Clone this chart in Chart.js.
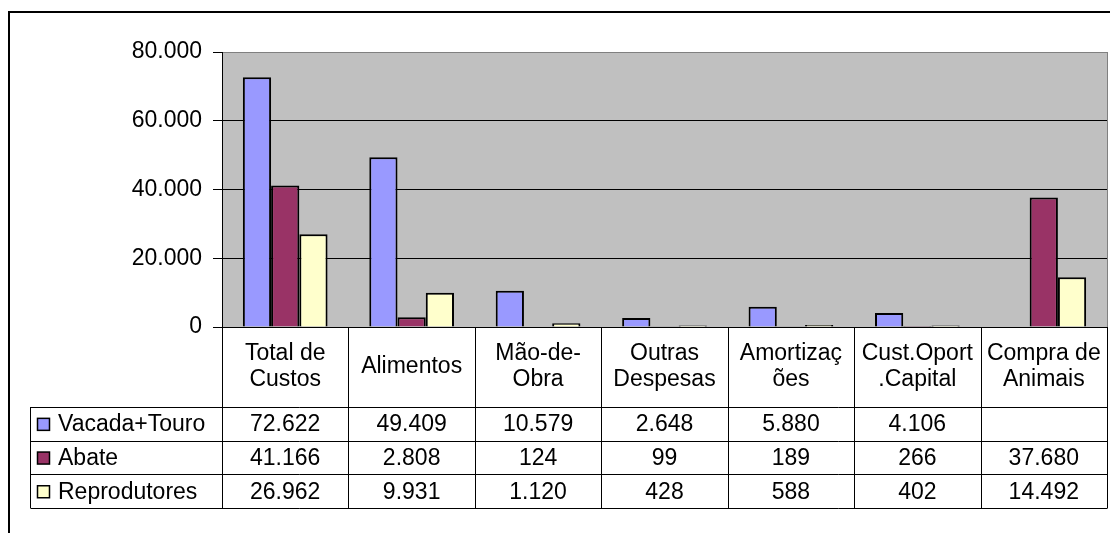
<!DOCTYPE html>
<html>
<head>
<meta charset="utf-8">
<script src="https://cdn.jsdelivr.net/npm/chart.js@4.4.1/dist/chart.umd.min.js"></script>
<style>
  html, body { margin: 0; padding: 0; background: #fff; }
  #wrap { width: 1110px; height: 533px; position: relative; }
</style>
</head>
<body>
<div id="wrap"><canvas id="chartOne" width="1110" height="533"></canvas></div>
<script>
// categorias (cabeçalho da tabela) e séries
let categorias = [['Total de', 'Custos'], ['Alimentos'], ['Mão-de-', 'Obra'], ['Outras', 'Despesas'], ['Amortizaç', 'ões'], ['Cust.Oport', '.Capital'], ['Compra de', 'Animais']];
let nomesSeries = ['Vacada+Touro', 'Abate', 'Reprodutores'];
let vacada = [72622, 49409, 10579, 2648, 5880, 4106, null];
let abate = [41166, 2808, 124, 99, 189, 266, 37680];
let reprodutores = [26962, 9931, 1120, 428, 588, 402, 14492];
let yMax = 80000;
let yStep = 20000;

let cores = ['#9999ff', '#993366', '#ffffcc'];
const FONTE = '23px "Liberation Sans", Arial, sans-serif';

// 72622 -> "72.622"
function formata(v) {
    if (v === null || v === undefined) return '';
    return String(v).replace(/\B(?=(\d{3})+(?!\d))/g, '.');
}

// fundo cinza, moldura e tabela de dados
const tabelaPlugin = {
    id: 'tabela',
    beforeDraw(chart) {
        const a = chart.chartArea;
        const ctx = chart.ctx;
        ctx.save();
        ctx.fillStyle = '#c0c0c0';
        ctx.fillRect(a.left, a.top, a.right - a.left, a.bottom - a.top);
        ctx.restore();
    },
    afterDraw(chart) {
        const a = chart.chartArea;
        const ctx = chart.ctx;
        const n = categorias.length;
        const colW = (a.right - a.left) / n;
        const headBottom = a.bottom + 80;
        const rowH = 33.7;
        const tableBottom = headBottom + rowH * 3;
        const legLeft = 30.5;

        ctx.save();
        // moldura externa
        ctx.strokeStyle = '#000';
        ctx.lineWidth = 2;
        ctx.beginPath();
        ctx.moveTo(9, 533);
        ctx.lineTo(9, 12);
        ctx.lineTo(1110, 12);
        ctx.stroke();

        // borda direita da área de plotagem
        ctx.lineWidth = 1;
        ctx.strokeStyle = '#808080';
        ctx.beginPath();
        ctx.moveTo(a.right + 0.5, a.top);
        ctx.lineTo(a.right + 0.5, a.bottom);
        ctx.stroke();

        // linhas da tabela
        ctx.strokeStyle = '#000';
        ctx.beginPath();
        for (let k = 0; k <= n; k++) {
            const x = Math.round(a.left + k * colW) + 0.5;
            ctx.moveTo(x, a.bottom);
            ctx.lineTo(x, tableBottom);
        }
        for (let r = 0; r <= 3; r++) {
            const y = Math.round(headBottom + r * rowH) + 0.5;
            ctx.moveTo(legLeft, y);
            ctx.lineTo(a.right + 0.5, y);
        }
        ctx.moveTo(legLeft, headBottom);
        ctx.lineTo(legLeft, tableBottom);
        ctx.stroke();

        ctx.font = FONTE;
        ctx.fillStyle = '#000';
        ctx.textAlign = 'center';
        ctx.textBaseline = 'middle';

        // cabeçalho
        const midHead = (a.bottom + headBottom) / 2;
        categorias.forEach((lab, i) => {
            const cx = a.left + (i + 0.5) * colW;
            const lh = 26;
            const y0 = midHead - (lab.length - 1) * lh / 2;
            lab.forEach((t, j) => ctx.fillText(t, cx, y0 + j * lh));
        });

        // valores
        chart.data.datasets.forEach((ds, r) => {
            const cy = headBottom + (r + 0.5) * rowH + 1;
            ds.data.forEach((v, i) => {
                const cx = a.left + (i + 0.5) * colW;
                ctx.fillText(formata(v), cx, cy);
            });
            // legenda
            ctx.fillStyle = ds.backgroundColor;
            ctx.fillRect(37.5, cy - 6.5, 12, 12);
            ctx.lineWidth = 1.5;
            ctx.strokeRect(37.5, cy - 6.5, 12, 12);
            ctx.fillStyle = '#000';
            ctx.textAlign = 'left';
            ctx.fillText(ds.label, 58, cy);
            ctx.textAlign = 'center';
        });
        ctx.restore();
    }
};

function serie(i, dados) {
    return {
        label: nomesSeries[i],
        data: dados,
        backgroundColor: cores[i],
        borderColor: '#000',
        borderWidth: 2,
        categoryPercentage: 0.67,
        barPercentage: 1.0
    };
}

var ctxOne = document.getElementById('chartOne').getContext('2d');
var chartOne = new Chart(ctxOne, {
    type: 'bar',
    data: {
        labels: categorias.map(c => c.join(' ')),
        datasets: [serie(0, vacada), serie(1, abate), serie(2, reprodutores)]
    },
    options: {
        responsive: false,
        animation: false,
        layout: {
            padding: { top: 52, right: 3, bottom: 206, left: 0 }
        },
        plugins: {
            legend: { display: false },
            tooltip: { enabled: false }
        },
        scales: {
            x: {
                display: false
            },
            y: {
                min: 0,
                max: yMax,
                afterFit(scale) { scale.width = 222; },
                ticks: {
                    stepSize: yStep,
                    color: '#000',
                    padding: 11,
                    font: { family: '"Liberation Sans", Arial, sans-serif', size: 23 },
                    callback: v => formata(v)
                },
                grid: {
                    color: c => (c.tick && c.tick.value === yMax) ? '#808080' : '#000',
                    tickColor: '#000',
                    tickLength: 9,
                    lineWidth: 1
                },
                border: { color: '#000', width: 1 }
            }
        }
    },
    plugins: [tabelaPlugin]
});
</script>
</body>
</html>
